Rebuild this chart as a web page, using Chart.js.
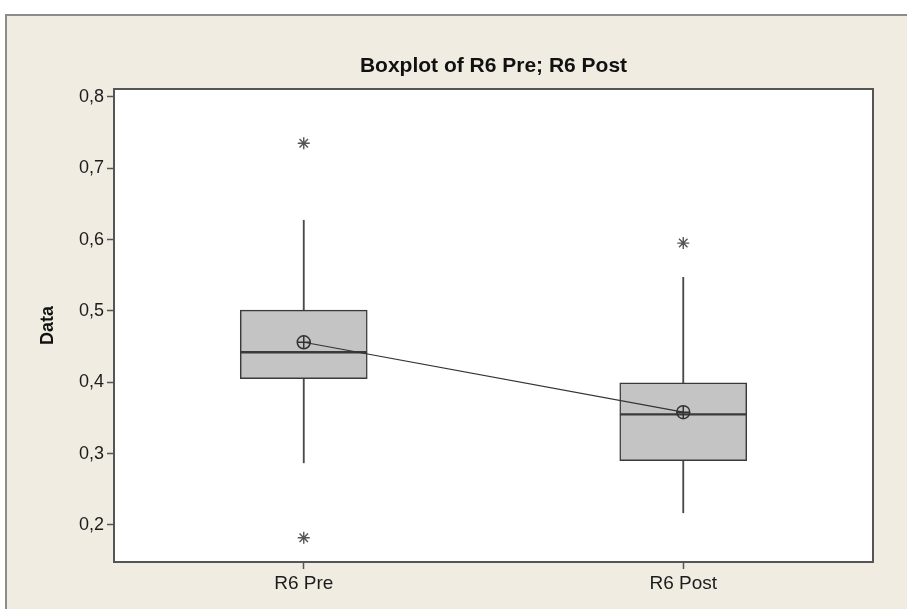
<!DOCTYPE html>
<html>
<head>
<meta charset="utf-8">
<script src="https://cdn.jsdelivr.net/npm/chart.js@4.4.1/dist/chart.umd.min.js"></script>
<style>
  html, body { margin: 0; padding: 0; background: #fff; }
  body { width: 907px; height: 609px; position: relative; overflow: hidden; }
  .frame {
    position: absolute; left: 5px; top: 14px; right: -10px; bottom: -10px;
    background: #f0ece2;
    border-left: 2px solid #8c8c8c;
    border-top: 2px solid #8c8c8c;
  }
  canvas { position: absolute; left: 0; top: 0; }
</style>
</head>
<body>
<div class="frame"></div>
<canvas id="chart" width="907" height="609"></canvas>
<script>
// values
const categories = ['R6 Pre', 'R6 Post'];
const whiskerLow = [0.287, 0.217];
const q1 = [0.405, 0.290];
const median = [0.442, 0.355];
const q3 = [0.501, 0.399];
const whiskerHigh = [0.627, 0.547];
const means = [0.456, 0.358];
const outliersPre = [0.735, 0.182];
const outliersPost = [0.595];
const yTicks = [0.2, 0.3, 0.4, 0.5, 0.6, 0.7, 0.8];

const pair = (a, b) => a.map((v, i) => [v, b[i]]);

const outlierPoints = [
  ...outliersPre.map((y) => ({ x: categories[0], y })),
  ...outliersPost.map((y) => ({ x: categories[1], y })),
];

const INK = '#333';
const BOX_FILL = '#c4c4c4';
const FONT = 'Liberation Sans';

// white plot area with a frame round it
const plotArea = {
  id: 'plotArea',
  beforeDraw(chart) {
    const { ctx, chartArea: a } = chart;
    ctx.save();
    ctx.fillStyle = '#fff';
    ctx.fillRect(a.left, a.top, a.right - a.left, a.bottom - a.top);
    ctx.restore();
  },
  afterDraw(chart) {
    const { ctx, chartArea: a } = chart;
    ctx.save();
    ctx.strokeStyle = '#555';
    ctx.lineWidth = 2;
    ctx.strokeRect(a.left, a.top, a.right - a.left, a.bottom - a.top);
    ctx.restore();
  },
};

const boxBar = {
  type: 'bar',
  backgroundColor: BOX_FILL,
  borderColor: '#3a3a3a',
  borderWidth: 1.5,
  borderSkipped: false,
  barThickness: 127,
  grouped: false,
};

const whiskerBar = {
  type: 'bar',
  backgroundColor: '#4a4a4a',
  borderWidth: 0,
  barThickness: 1.2,
  grouped: false,
};

const tickGrid = {
  display: true,
  drawOnChartArea: false,
  drawTicks: true,
  tickLength: 7,
  tickColor: '#555',
  tickWidth: 1.5,
  offset: false,
};

new Chart(document.getElementById('chart'), {
  type: 'bar',
  data: {
    labels: categories,
    datasets: [
      {
        type: 'line',
        data: means,
        borderColor: INK,
        borderWidth: 1.2,
        pointStyle: 'circle',
        pointRadius: 6.5,
        pointBorderWidth: 1.5,
        pointBorderColor: INK,
        pointBackgroundColor: 'rgba(0,0,0,0)',
      },
      {
        type: 'line',
        data: means,
        showLine: false,
        pointStyle: 'cross',
        pointRadius: 6.5,
        pointBorderWidth: 1.5,
        pointBorderColor: INK,
      },
      {
        type: 'line',
        data: outlierPoints,
        showLine: false,
        pointStyle: 'star',
        pointRadius: 6,
        pointBorderWidth: 1.4,
        pointBorderColor: '#555',
      },
      { ...boxBar, data: pair(q1, median) },
      { ...boxBar, data: pair(median, q3) },
      { ...whiskerBar, data: pair(q3, whiskerHigh) },
      { ...whiskerBar, data: pair(whiskerLow, q1) },
    ],
  },
  options: {
    responsive: false,
    animation: false,
    layout: { padding: { left: 0, right: 34, top: 0, bottom: 0 } },
    plugins: {
      legend: { display: false },
      tooltip: { enabled: false },
      title: {
        display: true,
        text: 'Boxplot of R6 Pre; R6 Post',
        fullSize: false,
        color: '#111',
        font: { family: FONT, size: 21, weight: 'bold' },
        padding: { top: 53.4, bottom: 10.4 },
      },
    },
    scales: {
      x: {
        grid: tickGrid,
        border: { display: true, color: '#555', width: 2 },
        ticks: {
          color: '#1c1c1c',
          padding: 3,
          font: { family: FONT, size: 19 },
        },
        afterFit: (scale) => { scale.height = 47; },
      },
      y: {
        min: 0.148,
        max: 0.811,
        grid: tickGrid,
        border: { display: true, color: '#555', width: 2 },
        afterBuildTicks: (axis) => {
          axis.ticks = yTicks.map((value) => ({ value }));
        },
        ticks: {
          color: '#1c1c1c',
          padding: 3,
          font: { family: FONT, size: 18 },
          callback: (val) => Number(val).toFixed(1).replace('.', ','),
        },
        title: {
          display: true,
          text: 'Data',
          color: '#111',
          font: { family: FONT, size: 18, weight: 'bold' },
          padding: { top: 37, bottom: 0 },
        },
        afterFit: (scale) => { scale.width = 114; },
      },
    },
  },
  plugins: [plotArea],
});
</script>
</body>
</html>
